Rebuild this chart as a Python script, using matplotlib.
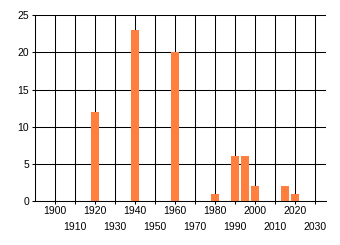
import matplotlib
matplotlib.use("Agg")
import matplotlib.pyplot as plt

years = [1920, 1940, 1960, 1980, 1990, 1995, 2000, 2015, 2020]
counts = [12, 23, 20, 1, 6, 6, 2, 2, 1]
major_ticks = [1900, 1920, 1940, 1960, 1980, 2000, 2020]
minor_ticks = [1910, 1930, 1950, 1970, 1990, 2010, 2030]
y_ticks = [0, 5, 10, 15, 20, 25]

plt.rcParams['font.family'] = ['Liberation Sans', 'DejaVu Sans']
fig = plt.figure(figsize=(3.4, 2.45), dpi=100)
ax = fig.add_axes([35/340, 1-201/245, 290.7/340, (201-15.3)/245])

ax.bar(years, counts, width=4, color='#FF7F3F', zorder=3)
ax.set_xlim(1890, 2035.3)
ax.set_ylim(0, 25)

fs = 7.5
ax.set_xticks(major_ticks)
ax.set_xticks(minor_ticks, minor=True)
ax.set_xticklabels([str(t) for t in major_ticks], fontsize=fs, color='#000000')
ax.set_xticklabels([str(t) for t in minor_ticks], minor=True, fontsize=fs, color='#000000')
ax.tick_params(axis='x', which='major', length=2.5, width=0.75, pad=1.3, color='black')
ax.tick_params(axis='x', which='minor', length=2.5, width=0.75, pad=12.8, color='black')
ax.set_yticks(y_ticks)
ax.set_yticklabels([str(t) for t in y_ticks], fontsize=fs)
ax.tick_params(axis='y', length=2.4, width=0.75, pad=1.8, color='black')

ax.grid(True, which='both', axis='x', color='black', linewidth=0.75, zorder=1)
ax.grid(True, which='major', axis='y', color='black', linewidth=0.75, zorder=1)
ax.set_axisbelow(True)
for s in ['top', 'right']:
    ax.spines[s].set_visible(False)
for s in ['left', 'bottom']:
    ax.spines[s].set_linewidth(0.75)
    ax.spines[s].set_color('black')

fig.savefig('out.png', dpi=100)
